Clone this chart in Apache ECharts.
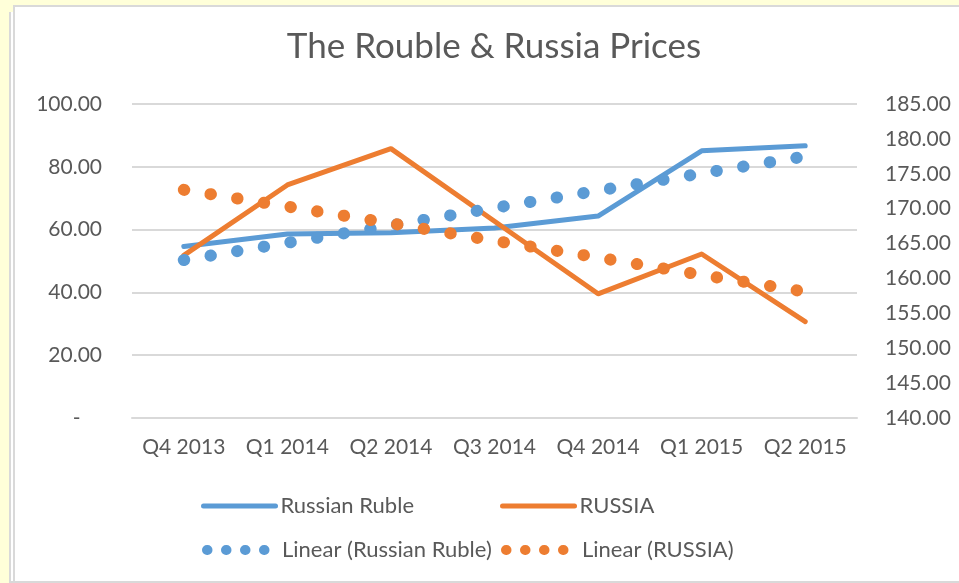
<!DOCTYPE html>
<html>
<head>
<meta charset="utf-8">
<script src="https://cdn.jsdelivr.net/npm/echarts@6/dist/echarts.min.js"></script>
<style>
  html, body { margin: 0; padding: 0; background: #FFFFD9; }
  .frame-back { position: absolute; left: 9px; top: 12px; width: 960px; height: 569px;
    background: #fff; border-left: 2px solid #D9D9D9; border-bottom: 2px solid #D9D9D9; }
  .frame { position: absolute; left: 13px; top: 5px; width: 960px; height: 574px;
    background: #fff; border-left: 2px solid #D9D9D9; border-top: 2px solid #D9D9D9; border-bottom: 2px solid #D9D9D9; }
  #chart { position: absolute; left: 0; top: 0; width: 959px; height: 583px; }
</style>
</head>
<body>
<div class="frame-back"></div>
<div class="frame"></div>
<div id="chart"></div>
<script>
  // 数据
  const quarters = ['Q4 2013', 'Q1 2014', 'Q2 2014', 'Q3 2014', 'Q4 2014', 'Q1 2015', 'Q2 2015']
  const rubleValues = [54.6, 58.6, 59.0, 60.5, 64.3, 85.1, 86.7]
  const russiaValues = [163.3, 173.4, 178.6, 168.2, 157.8, 163.5, 153.8]
  // trendlines
  const rubleTrend = [50.3, 55.8, 61.3, 66.9, 72.4, 77.9, 83.3]
  const russiaTrend = [172.7, 170.3, 167.9, 165.4, 163.0, 160.5, 158.1]

  const blue = '#5B9BD5'
  const orange = '#ED7D31'
  const textColor = '#595959'
  const font = 'Lato'

  const chartInstance = echarts.init(document.getElementById('chart'))

  const legendText = { color: textColor, fontSize: 22, fontFamily: font }
  const solidLegend = { width: 5, type: 'solid', cap: 'round' }
  const dotLegend = { width: 10, type: [0.5, 18.5], cap: 'round' }
  const noSymbol = { opacity: 0, color: 'transparent', borderWidth: 0 }

  const option = {
    backgroundColor: 'transparent',
    animation: false,
    title: {
      text: 'The Rouble & Russia Prices',
      left: 494,
      top: 29,
      textAlign: 'center',
      padding: 0,
      textStyle: { color: textColor, fontSize: 35, fontWeight: 'normal', fontFamily: font }
    },
    legend: [
      { data: ['Russian Ruble'], left: 201, top: 495, itemWidth: 72, itemHeight: 14, padding: 0,
        textStyle: legendText, lineStyle: solidLegend, itemStyle: noSymbol },
      { data: ['RUSSIA'], left: 500, top: 495, itemWidth: 72, itemHeight: 14, padding: 0,
        textStyle: legendText, lineStyle: solidLegend, itemStyle: noSymbol },
      { data: ['Linear (Russian Ruble)'], left: 202, top: 539, itemWidth: 70, itemHeight: 14, padding: 0,
        textStyle: legendText, lineStyle: dotLegend, itemStyle: noSymbol },
      { data: ['Linear (RUSSIA)'], left: 501, top: 539, itemWidth: 71, itemHeight: 14, padding: 0,
        textStyle: legendText, lineStyle: dotLegend, itemStyle: noSymbol }
    ],
    grid: { left: 132, right: 102, top: 104, bottom: 165, containLabel: false },
    xAxis: {
      type: 'category',
      data: quarters,
      boundaryGap: true,
      axisLine: { lineStyle: { color: '#D9D9D9', width: 2 } },
      axisTick: { show: false },
      axisLabel: { color: textColor, fontSize: 21, fontFamily: font, margin: 19, interval: 0 }
    },
    yAxis: [
      {
        type: 'value', min: 0, max: 100, interval: 20,
        axisLine: { show: false }, axisTick: { show: false },
        splitLine: { lineStyle: { color: '#D9D9D9', width: 2 } },
        axisLabel: {
          color: textColor, fontSize: 21, fontFamily: font, margin: 30,
          formatter: v => v === 0 ? '-    ' : v.toFixed(2)
        }
      },
      {
        type: 'value', min: 140, max: 185, interval: 5,
        axisLine: { show: false }, axisTick: { show: false },
        splitLine: { show: false },
        axisLabel: {
          color: textColor, fontSize: 21, fontFamily: font, margin: 28,
          formatter: v => v.toFixed(2)
        }
      }
    ],
    series: [
      {
        name: 'Russian Ruble', type: 'line', data: rubleValues, yAxisIndex: 0,
        symbol: 'none', color: blue,
        lineStyle: { color: blue, width: 5, cap: 'round', join: 'round' }
      },
      {
        name: 'RUSSIA', type: 'line', data: russiaValues, yAxisIndex: 1,
        symbol: 'none', color: orange,
        lineStyle: { color: orange, width: 5, cap: 'round', join: 'round' }
      },
      {
        name: 'Linear (Russian Ruble)', type: 'line', data: rubleTrend, yAxisIndex: 0,
        symbol: 'none', color: blue,
        lineStyle: { color: blue, width: 12, type: [0.5, 26.5], cap: 'round' }
      },
      {
        name: 'Linear (RUSSIA)', type: 'line', data: russiaTrend, yAxisIndex: 1,
        symbol: 'none', color: orange,
        lineStyle: { color: orange, width: 12, type: [0.5, 26.5], cap: 'round' }
      }
    ]
  }
  chartInstance.setOption(option)
</script>
</body>
</html>
